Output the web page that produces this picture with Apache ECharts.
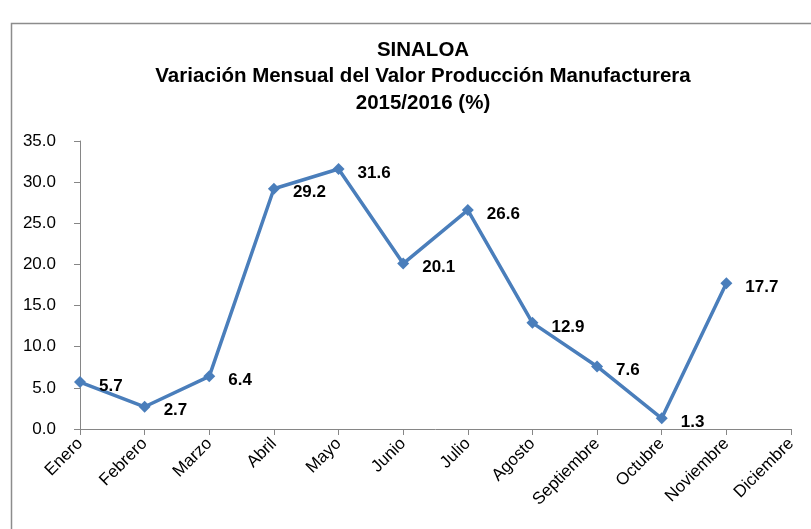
<!DOCTYPE html>
<html><head><meta charset="utf-8">
<script src="https://cdn.jsdelivr.net/npm/echarts@6/dist/echarts.min.js"></script>
<style>html,body{margin:0;padding:0;background:#fff}#c{width:811px;height:529px}</style>
</head><body><div id="c"></div>
<script>
const categories = ['Enero','Febrero','Marzo','Abril','Mayo','Junio','Julio','Agosto','Septiembre','Octubre','Noviembre','Diciembre'];
const values = [5.7, 2.7, 6.4, 29.2, 31.6, 20.1, 26.6, 12.9, 7.6, 1.3, 17.7, null];
const titleLines = ['SINALOA', 'Variación Mensual del Valor Producción Manufacturera', '2015/2016 (%)'];
const FONT = '"Liberation Sans Narrow", "Liberation Sans", Arial, sans-serif';

const chart = echarts.init(document.getElementById('c'));
chart.setOption({
  animation: false,
  backgroundColor: '#fff',
  graphic: [{
    type: 'rect', left: 9, top: 21,
    shape: { width: 840, height: 560 },
    style: { fill: 'none', stroke: '#8c8c8c', lineWidth: 1.5 }
  }],
  title: {
    text: titleLines.join('\n'),
    left: 418, top: 32, textAlign: 'center',
    textStyle: { fontFamily: FONT, fontWeight: 'bold', fontSize: 20.5, color: '#000', lineHeight: 26.5 }
  },
  grid: { left: 80, right: 20, top: 141, bottom: 100, containLabel: false },
  xAxis: {
    type: 'category', data: categories, boundaryGap: false,
    axisLine: { lineStyle: { color: '#868686', width: 1 } },
    axisTick: { show: true, alignWithLabel: true, length: 6, lineStyle: { color: '#868686' } },
    axisLabel: { rotate: 45, interval: 0, fontFamily: FONT, fontSize: 17, color: '#000', margin: 12 },
    splitLine: { show: false }
  },
  yAxis: {
    type: 'value', min: 0, max: 35, interval: 5,
    axisLine: { show: true, lineStyle: { color: '#868686', width: 1 } },
    axisTick: { show: true, length: 6, lineStyle: { color: '#868686' } },
    axisLabel: { formatter: v => v.toFixed(1), fontFamily: FONT, fontSize: 17, color: '#000', margin: 24 },
    splitLine: { show: false }
  },
  series: [{
    type: 'line', data: values,
    symbol: 'diamond', symbolSize: 12,
    lineStyle: { color: '#4A7EBB', width: 3.5 },
    itemStyle: { color: '#4A7EBB', borderColor: '#fff', borderWidth: 0 },
    label: {
      show: true, position: 'right', distance: 13,
      formatter: p => p.value == null ? '' : p.value.toFixed(1),
      fontFamily: FONT, fontWeight: 'bold', fontSize: 17, color: '#000',
      offset: [0, 4]
    }
  }]
});
</script></body></html>
